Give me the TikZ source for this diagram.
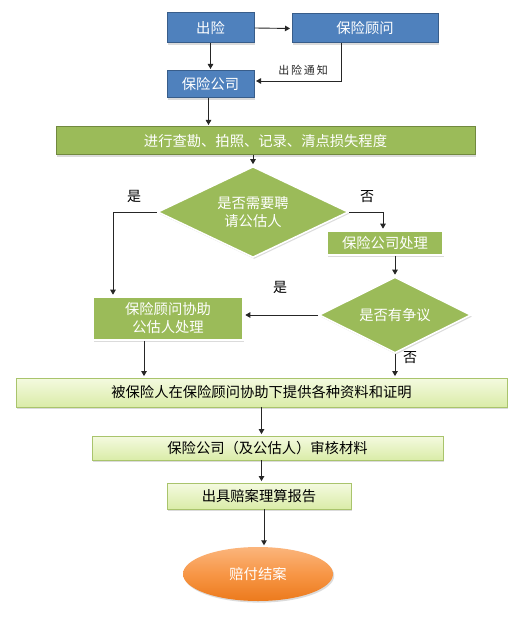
\documentclass[tikz,border=0pt]{standalone}
\usepackage{fontspec}
\newfontfamily\cjk{Noto Sans CJK SC}
\usetikzlibrary{shapes.geometric,arrows.meta,shadows}
\definecolor{bluefill}{HTML}{4F81BD}
\definecolor{blueline}{HTML}{385D8A}
\definecolor{greenfill}{HTML}{9BBB59}
\definecolor{greenline}{HTML}{71893F}
\definecolor{lighttop}{HTML}{F4FAE0}
\definecolor{lightbot}{HTML}{DAECA8}
\definecolor{lightline}{HTML}{A9C46C}
\definecolor{orangetop}{HTML}{FBB57C}
\definecolor{orangemid}{HTML}{F79646}
\definecolor{orangebot}{HTML}{EC7A1C}
\definecolor{linegray}{HTML}{262626}
\tikzset{
  txt/.style={font=\cjk\fontsize{14.3}{18}\selectfont},
  shad/.style={drop shadow={opacity=0.28,shadow xshift=1.2pt,shadow yshift=-1.6pt}},
  bluebox/.style={txt,shad,rectangle,fill=bluefill,draw=blueline,line width=1pt,text=white,inner sep=0pt},
  darkgreen/.style={txt,shad,rectangle,fill=greenfill,draw=greenline,line width=1pt,text=white,inner sep=0pt},
  greenbox/.style={txt,shad,rectangle,fill=greenfill,draw=white,line width=1.6pt,text=white,inner sep=0pt,align=center},
  greendia/.style={txt,shad,diamond,fill=greenfill,draw=white,line width=1.6pt,text=white,inner sep=0pt,align=center},
  lightbox/.style={txt,shad,rectangle,top color=lighttop,bottom color=lightbot,draw=lightline,line width=0.8pt,text=black,inner sep=0pt},
  endell/.style={txt,shad,ellipse,top color=orangetop,bottom color=orangebot,middle color=orangemid,draw=none,text=white,inner sep=0pt},
  arr/.style={draw=linegray,line width=0.9pt,-{Triangle[width=5.5pt,length=5pt]},shorten >=1.5pt},
  lbl/.style={font=\cjk\fontsize{14}{16}\selectfont,text=black,inner sep=0pt},
  note/.style={font=\cjk\fontsize{11}{12}\selectfont,text=linegray,inner sep=0pt}
}
\begin{document}
\begin{tikzpicture}[x=1pt,y=-1pt]
\useasboundingbox[fill=white] (0,0) rectangle (529,617);
% top blue boxes
\node[bluebox,minimum width=87pt,minimum height=30pt] (chuxian) at (210.5,28) {出险};
\node[bluebox,minimum width=146pt,minimum height=29pt] (guwen) at (365,28.5) {保险顾问};
\node[bluebox,minimum width=87pt,minimum height=27pt] (gongsi) at (210.5,84.5) {保险公司};
% survey
\node[darkgreen,minimum width=419pt,minimum height=28pt] (check) at (265.5,141) {进行查勘、拍照、记录、清点损失程度};
% decisions
\node[greendia,minimum width=191pt,minimum height=91pt,aspect=2.1] (d1) at (253,212) {是否需要聘\\请公估人};
\node[greenbox,minimum width=116pt,minimum height=24pt] (proc) at (385,243) {保险公司处理};
\node[greendia,minimum width=152pt,minimum height=76pt,aspect=2] (d2) at (395,315) {是否有争议};
\node[greenbox,minimum width=150pt,minimum height=43pt] (assist) at (168,318.5) {保险顾问协助\\公估人处理};
% light boxes
\node[lightbox,minimum width=491pt,minimum height=29pt] (provide) at (261.5,392.5) {被保险人在保险顾问协助下提供各种资料和证明};
\node[lightbox,minimum width=351pt,minimum height=24pt] (review) at (267.5,448) {保险公司（及公估人）审核材料};
\node[lightbox,minimum width=184pt,minimum height=26pt] (report) at (259,496) {出具赔案理算报告};
\node[endell,minimum width=150pt,minimum height=54pt] (finish) at (258,574) {赔付结案};
% connectors
\draw[arr] (chuxian.east) -- (guwen.west);
\draw[arr] (chuxian.south) -- (gongsi.north);
\draw[arr] ([xshift=-24pt]guwen.south) |- ([yshift=3.5pt]gongsi.east);
\node[note] (notice) at (303,70) {出\,险\,通\,知};
\draw[arr] ([xshift=-2pt]gongsi.south) -- ([xshift=-2pt]gongsi.south |- check.north);
\draw[arr] (d1.north |- check.south) -- (d1.north);
\draw[arr] (d1.west) -| ([xshift=-55pt]assist.north);
\draw[arr] (d1.east) -| ([xshift=-2pt]proc.north);
\draw[arr] (d2.north |- proc.south) -- (d2.north);
\draw[arr] (d2.west) -- (d2.west -| assist.east);
\draw[arr] ([xshift=-24pt]assist.south) -- ([xshift=-24pt]assist.south |- provide.north);
\draw[arr] (d2.south) -- (d2.south |- provide.north);
\draw[arr] (provide.south) -- (provide.south |- review.north);
\draw[arr] (provide.south |- review.south) -- (provide.south |- report.north);
\draw[arr] ([xshift=5pt]report.south) -- ([xshift=5pt]report.south |- finish.north);
% labels
\node[lbl] (yes1) at (134,196) {是};
\node[lbl] (no1) at (367,197) {否};
\node[lbl] (yes2) at (280,287) {是};
\node[lbl] (no2) at (410,358) {否};
\end{tikzpicture}
\end{document}
